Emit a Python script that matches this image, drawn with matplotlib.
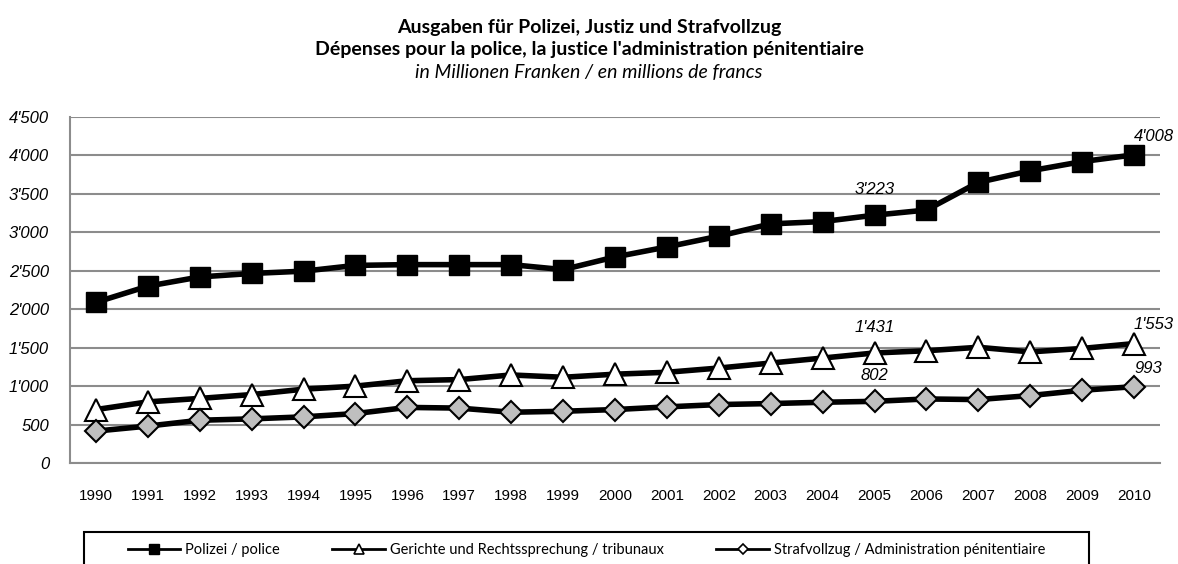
import matplotlib
matplotlib.use("Agg")
import matplotlib.pyplot as plt
from matplotlib.ticker import FuncFormatter
from matplotlib.lines import Line2D
from matplotlib.patches import Rectangle

plt.rcParams["font.family"] = ["Liberation Sans", "DejaVu Sans"]

years = list(range(1990, 2011))
year_labels = [str(y) for y in years]
polizei = [2090, 2300, 2420, 2465, 2495, 2570, 2580, 2580, 2580, 2515,
           2680, 2810, 2950, 3110, 3140, 3223, 3290, 3650, 3800, 3920, 4008]
gerichte = [695, 795, 840, 890, 960, 1000, 1070, 1085, 1145, 1115,
            1155, 1180, 1235, 1300, 1365, 1431, 1460, 1505, 1445, 1490, 1553]
strafvollzug = [415, 480, 556, 574, 600, 643, 723, 714, 660, 673,
                695, 730, 760, 773, 790, 802, 833, 825, 877, 946, 993]
series_names = ["Polizei / police",
                "Gerichte und Rechtssprechung / tribunaux",
                "Strafvollzug / Administration pénitentiaire"]
yticks = [0, 500, 1000, 1500, 2000, 2500, 3000, 3500, 4000, 4500]

W, H = 1178, 564
fig = plt.figure(figsize=(W/100, H/100), dpi=100)
ax = fig.add_axes([70/W, 1-463/H, 1090/W, 346/H])

x = list(range(len(years)))
ax.plot(x, polizei, color="black", lw=4, marker="s", ms=14,
        mfc="black", mec="black", zorder=3)
ax.plot(x, gerichte, color="black", lw=4, marker="^", ms=16,
        mfc="white", mec="black", mew=1.5, zorder=3)
ax.plot(x, strafvollzug, color="black", lw=4, marker="D", ms=11,
        mfc="#bfbfbf", mec="black", mew=1.5, zorder=3)

def fmt(v):
    return f"{int(v):,}".replace(",", "'")

ax.set_xlim(-0.5, len(years) - 0.5)
ax.set_ylim(0, 4500)
ax.set_yticks(yticks)
ax.set_yticklabels([fmt(v) for v in yticks], fontstyle="italic",
                   fontfamily="Liberation Sans", fontsize=12)
ax.set_xticks(x)
ax.set_xticklabels(year_labels, fontfamily="Liberation Sans", fontsize=11)
ax.grid(axis="y", color="#8c8c8c", lw=1.5)
ax.set_axisbelow(True)
for s in ["top", "right"]:
    ax.spines[s].set_visible(False)
for s in ["left", "bottom"]:
    ax.spines[s].set_color("#8c8c8c")
    ax.spines[s].set_linewidth(1.5)
ax.tick_params(axis="both", length=0)
ax.tick_params(axis="y", pad=15)
ax.tick_params(axis="x", pad=19)

lbl = dict(fontfamily="Liberation Sans", fontstyle="italic", fontsize=12)
i05 = years.index(2005)
i10 = years.index(2010)
for series in (polizei, gerichte, strafvollzug):
    ax.annotate(fmt(series[i05]), (i05, series[i05]), xytext=(0, 13),
                textcoords="offset points", ha="center", va="bottom", **lbl)
    ax.annotate(fmt(series[i10]), (i10, series[i10]), xytext=(0, 8),
                textcoords="offset points", ha="left", va="bottom",
                annotation_clip=False, **lbl)

title_font = "Lato"
fig.text(0.5, 1-28/H, "Ausgaben für Polizei, Justiz und Strafvollzug",
         ha="center", va="center", fontsize=14, fontweight="bold", family=title_font)
fig.text(0.5, 1-50/H, "Dépenses pour la police, la justice l'administration pénitentiaire",
         ha="center", va="center", fontsize=14, fontweight="bold", family=title_font)
fig.text(0.5, 1-72/H, "in Millionen Franken / en millions de francs",
         ha="center", va="center", fontsize=14, fontstyle="italic", family=title_font)

# legend box
fig.patches.append(Rectangle((84/W, -0.05), (1089-84)/W, 0.05 + 1-532/H,
                             transform=fig.transFigure, fill=False,
                             edgecolor="black", lw=1.5))
h1 = Line2D([], [], color="black", lw=2, marker="s", ms=7, mfc="black", mec="black")
h2 = Line2D([], [], color="black", lw=2, marker="^", ms=6.5, mfc="white", mec="black", mew=1.2)
h3 = Line2D([], [], color="black", lw=2, marker="D", ms=5, mfc="white", mec="black", mew=1.2)
leg = fig.legend([h1, h2, h3], series_names, loc="center",
                 bbox_to_anchor=((84+1089)/2/W, 1-550/H),
                 ncol=3, frameon=False,
                 prop={"family": "Lato", "size": 10.5}, handlelength=3.6,
                 handletextpad=0.35, columnspacing=3.6, borderpad=0, borderaxespad=0)

fig.savefig("out.png", dpi=100)
